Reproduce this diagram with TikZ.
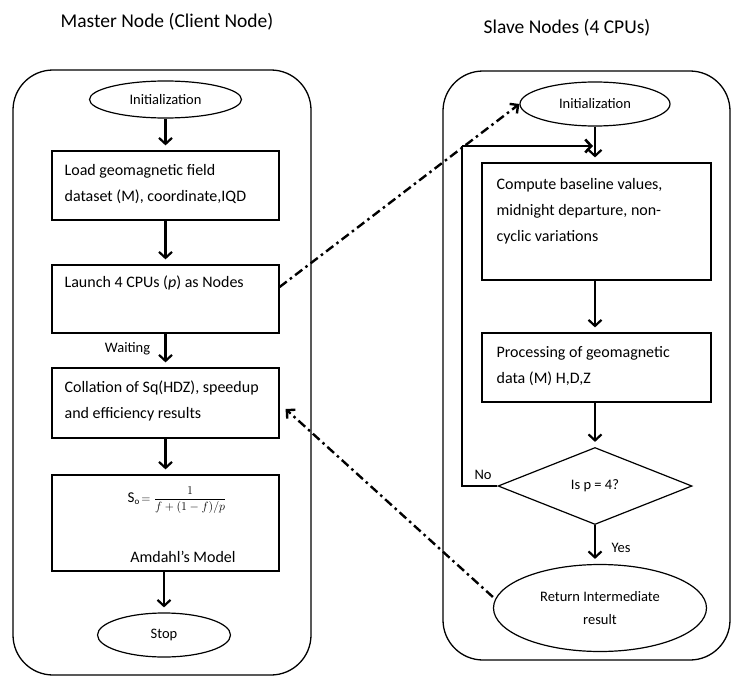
\documentclass[tikz,border=0pt]{standalone}
\usepackage{fontspec}
\setmainfont{Carlito}
\usepackage{amsmath}
\usetikzlibrary{shapes.geometric,arrows.meta,calc}
\tikzset{
  frame/.style={draw, line width=1.3pt, rounded corners=40pt, inner sep=0pt},
  box/.style={draw, line width=1.2pt, inner sep=0pt},
  term/.style={draw, ellipse, line width=1.2pt, inner sep=0pt},
  dec/.style={draw, diamond, line width=1.2pt, inner sep=0pt},
  flow/.style={line width=2.2pt, -{Straight Barb[length=6pt,width=13pt]}, shorten >=5pt},
  link/.style={line width=2.4pt, dash pattern=on 9pt off 4pt on 2.5pt off 4pt, -{Straight Barb[length=6pt,width=12pt]}},
  txt/.style={font=\fontsize{16}{26}\selectfont, align=left, inner sep=0pt, anchor=north west},
  lab/.style={font=\fontsize{14.5}{17}\selectfont, inner sep=0pt},
  ttl/.style={font=\fontsize{19.5}{22}\selectfont, inner sep=0pt}
}
\begin{document}
\begin{tikzpicture}[x=1pt, y=-1pt]
\useasboundingbox (0,0) rectangle (731,677);
% titles
\node[ttl] (titleL) at (167,22) {Master Node (Client Node)};
\node[ttl] (titleR) at (567,28) {Slave Nodes (4 CPUs)};
% containers
\node[frame, minimum width=298pt, minimum height=605pt] (frameL) at (162,372.5) {};
\node[frame, minimum width=287pt, minimum height=589pt] (frameR) at (586.5,365.5) {};
% left column
\node[term, minimum width=152pt, minimum height=37pt, lab] (initL) at (165.5,99.5) {Initialization};
\node[box, minimum width=227pt, minimum height=69pt] (boxL1) at (165.5,185.5) {};
\node[box, minimum width=227pt, minimum height=68pt] (boxL2) at (165.5,299) {};
\node[box, minimum width=227pt, minimum height=70pt] (boxL3) at (165.5,403) {};
\node[box, minimum width=227pt, minimum height=96pt] (boxL4) at (165.5,523) {};
\node[term, minimum width=133pt, minimum height=44pt, lab] (stopL) at (164,635) {Stop};
\node[txt] (tL1) at ([xshift=13pt,yshift=-7pt]boxL1.north west) {\strut Load geomagnetic field\\dataset (M), coordinate,IQD};
\node[txt] (tL2) at ([xshift=13pt,yshift=-5pt]boxL2.north west) {\strut Launch 4 CPUs (\textit{p}) as Nodes};
\node[txt] (tL3) at ([xshift=13pt,yshift=-7pt]boxL3.north west) {\strut Collation of Sq(HDZ), speedup\\and efficiency results};
\node[inner sep=0pt] (formula) at (177,500) {{\fontsize{15}{18}\selectfont S\raisebox{-2pt}{\fontsize{9}{10}\selectfont o}}{\fontsize{11.5}{14}\selectfont$\,=\dfrac{1}{f+(1-f)/p}$}};
\node[inner sep=0pt, font=\fontsize{16}{18}\selectfont] (amdahl) at (183,557) {Amdahl's Model};
\node[lab] (waiting) at (127.5,349) {Waiting};
% right column
\node[term, minimum width=150pt, minimum height=44pt, lab] (initR) at (595,104) {Initialization};
\node[box, minimum width=229pt, minimum height=117pt] (boxR1) at (596.5,221.5) {};
\node[box, minimum width=229pt, minimum height=69pt] (boxR2) at (596.5,367.5) {};
\node[dec, minimum width=194pt, minimum height=77pt, lab] (dia) at (595,486) {Is p = 4?};
\node[term, minimum width=213pt, minimum height=87pt, lab, align=center, font=\fontsize{14.5}{23}\selectfont] (retR) at (600,608) {Return Intermediate\\result};
\node[txt] (tR1) at ([xshift=15pt,yshift=-9pt]boxR1.north west) {\strut Compute baseline values,\\midnight departure, non-\\cyclic variations};
\node[txt] (tR2) at ([xshift=15pt,yshift=-7pt]boxR2.north west) {\strut Processing of geomagnetic\\data (M) H,D,Z};
\node[lab] (no) at (483,475) {No};
\node[lab] (yes) at (621,548) {Yes};
\coordinate (loopB) at (462,486);
\coordinate (loopC) at (462,146);
\coordinate (joinP) at (595,146);
% left flows
\draw[flow] (initL.south) -- (boxL1.north);
\draw[flow] (boxL1.south) -- (boxL2.north);
\draw[flow] (boxL2.south) -- (boxL3.north);
\draw[flow] (boxL3.south) -- (boxL4.north);
\draw[flow] (boxL4.south -| stopL.north) -- (stopL.north);
% right flows
\draw[flow] (initR.south) -- (initR.south |- boxR1.north);
\draw[flow] (initR.south |- boxR1.south) -- (initR.south |- boxR2.north);
\draw[flow] (dia.north |- boxR2.south) -- (dia.north);
\draw[flow] (dia.south) -- (dia.south |- retR.north);
\draw[line width=1.2pt] (dia.west) -- (loopB) -- (loopC);
\draw[flow, line width=2.6pt, shorten >=2pt] (loopC) -- (joinP);
% cross links
\draw[link] ([yshift=12pt]boxL2.east) -- (initR.west);
\draw[link] ([yshift=11pt]retR.west) -- ([xshift=6pt,yshift=-6pt]boxL3.east);
\end{tikzpicture}
\end{document}
